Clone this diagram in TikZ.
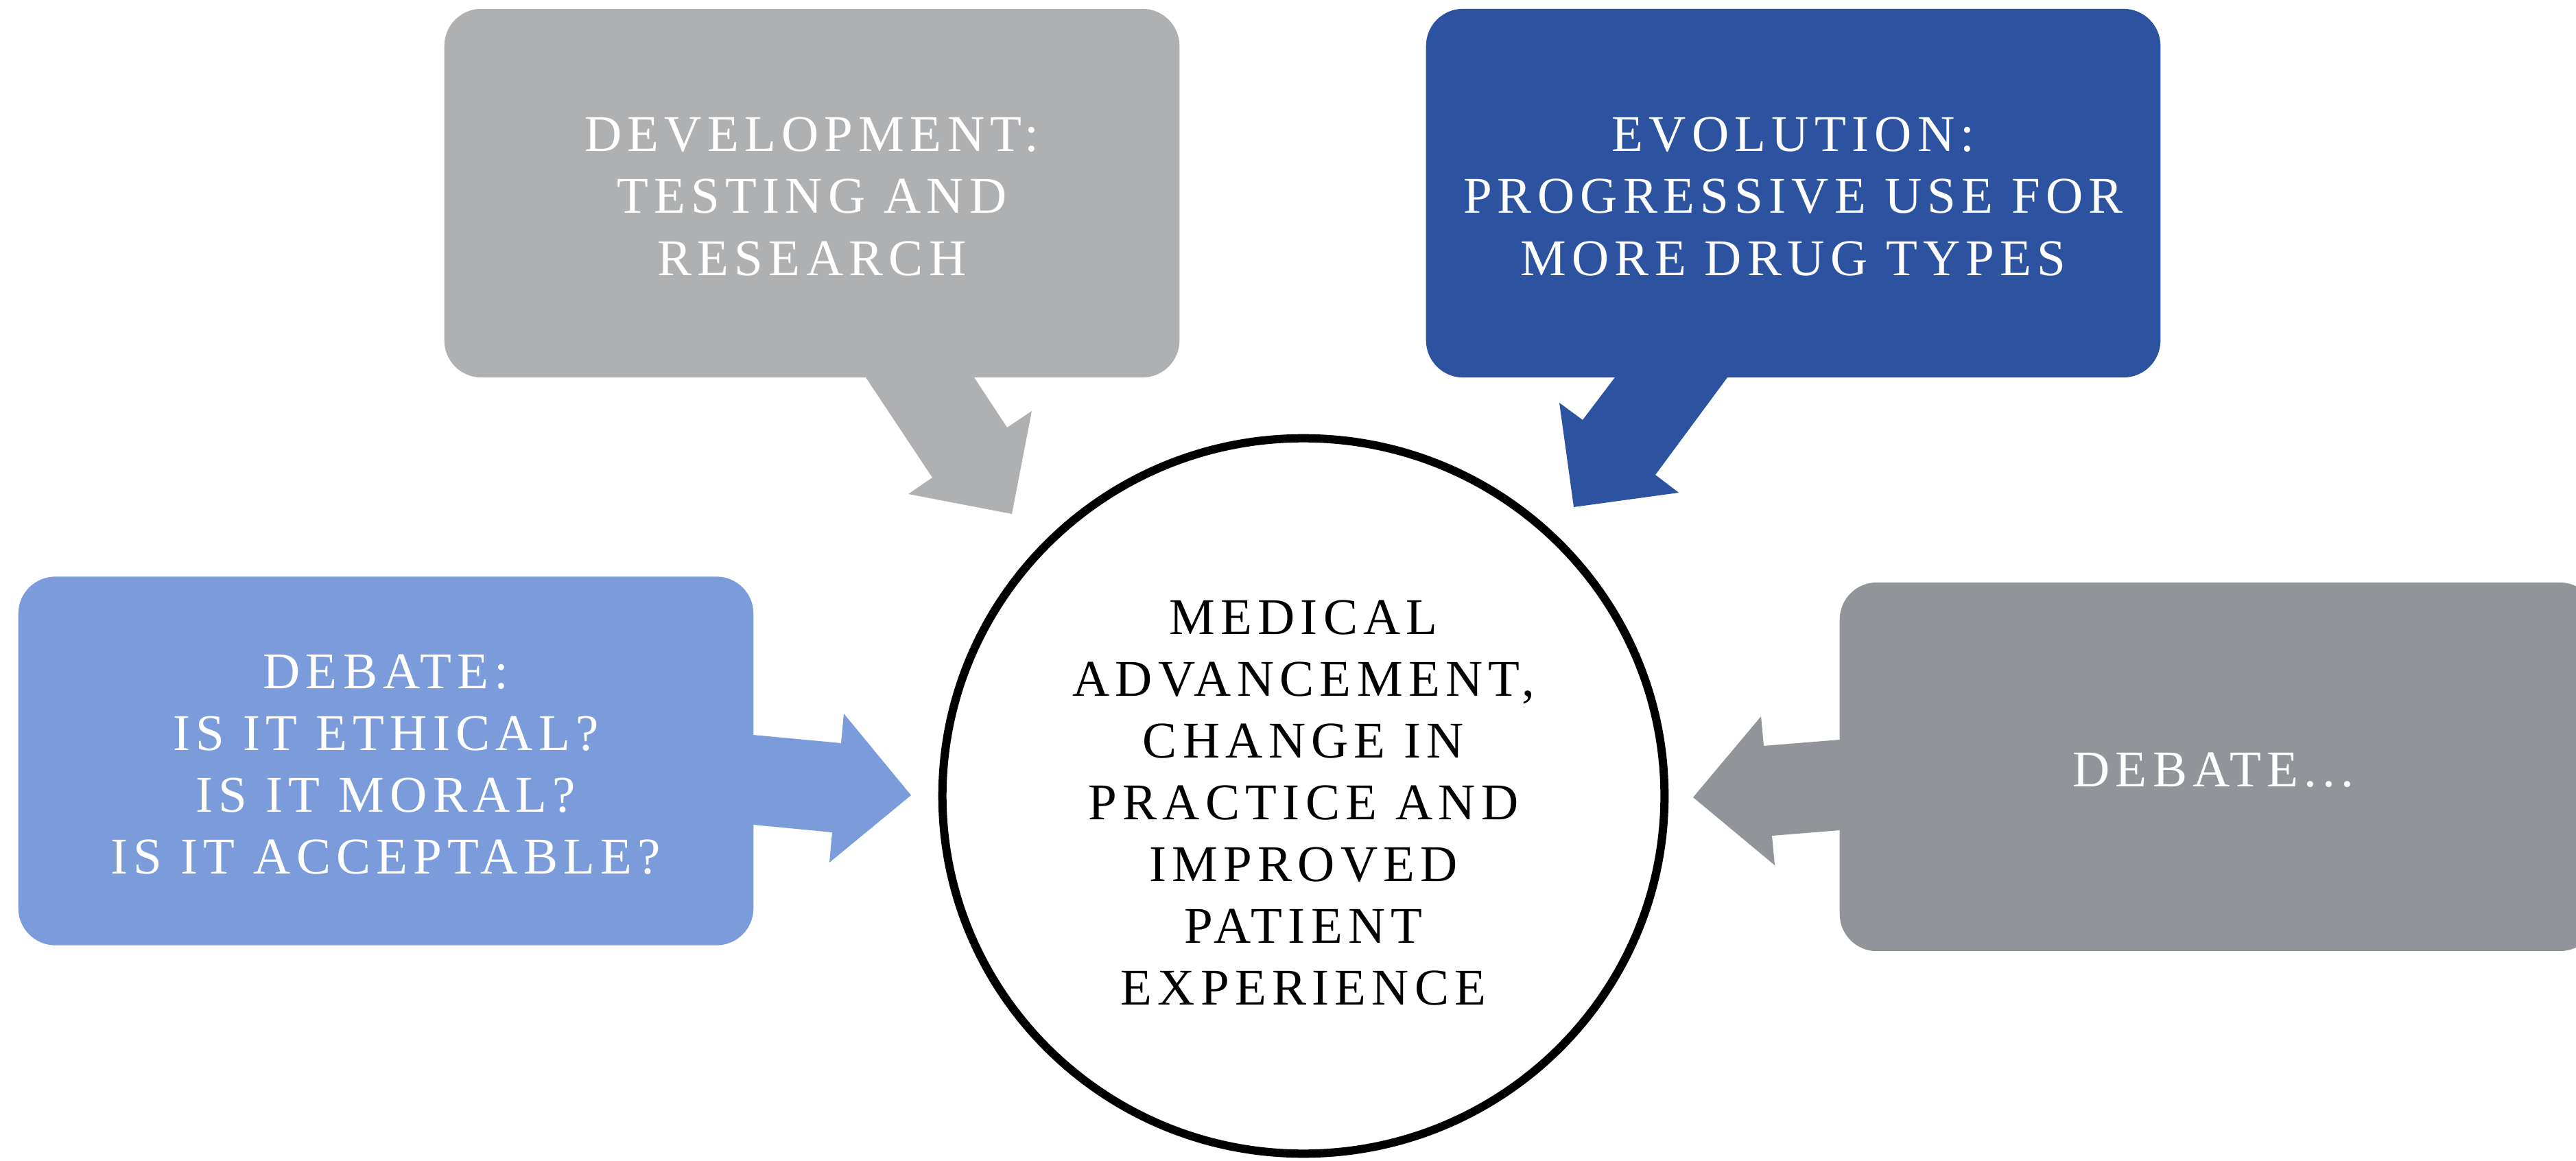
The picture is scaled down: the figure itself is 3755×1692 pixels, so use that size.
\documentclass[tikz,border=0pt]{standalone}
\usepackage{fontspec}
\newfontfamily\lblfont{Liberation Serif}[LetterSpace=11]
\usetikzlibrary{shapes.geometric}
\definecolor{devgray}{RGB}{175,176,178}
\definecolor{evoblue}{RGB}{45,82,160}
\definecolor{debblue}{RGB}{123,155,218}
\definecolor{debgray}{RGB}{145,149,153}
\begin{document}
\begin{tikzpicture}[x=0.01cm,y=-0.01cm,
  callout/.style={draw=none, rounded corners=0.54cm, minimum height=5.37cm, inner sep=0pt},
  lbl/.style={inner sep=0pt, align=center, font=\lblfont\fontsize{21.34pt}{25.61pt}\selectfont},
  hubstyle/.style={ellipse, draw=black, line width=0.12cm, fill=white, inner sep=0pt}
]
\useasboundingbox (0,0) rectangle (3755,1692);
\clip (0,0) rectangle (3755,1692);

% boxes
\node[callout, fill=devgray, minimum width=10.71cm] (dev) at (1183.5,281.5) {};
\node[callout, fill=evoblue, minimum width=10.70cm] (evo) at (2614,281.5) {};
\node[callout, fill=debblue, minimum width=10.71cm] (deb) at (562.5,1109) {};
\node[callout, fill=debgray, minimum width=11.03cm] (deb2) at (3233.5,1117.5) {};

% arrows of the callouts
\fill[devgray] (1262,540) -- (1262,550) -- (1359,696) -- (1324,720) -- (1475,749) -- (1504,599) -- (1468,623) -- (1420,550) -- (1420,540) -- cycle;
\fill[evoblue] (2354,540) -- (2354,550) -- (2307,612) -- (2273,587) -- (2294,739) -- (2447,718) -- (2413,692) -- (2518,550) -- (2518,540) -- cycle;
\fill[debblue] (1088,1071) -- (1098,1071) -- (1226,1083) -- (1230,1040) -- (1328,1159) -- (1209,1257) -- (1213,1213) -- (1098,1202) -- (1088,1202) -- cycle;
\fill[debgray] (2692,1078) -- (2682,1078) -- (2571,1087) -- (2567,1044) -- (2468,1162) -- (2587,1261) -- (2583,1218) -- (2682,1210) -- (2692,1210) -- cycle;

% hub
\node[hubstyle, minimum width=10.52cm, minimum height=10.42cm] (hub) at (1900,1160) {};

% texts
\node[lbl, text=white] (devtext) at ([yshift=-0.05cm]dev.center) {DEVELOPMENT:\\TESTING AND\\RESEARCH};
\node[lbl, text=white] (evotext) at ([yshift=-0.05cm]evo.center) {EVOLUTION:\\PROGRESSIVE USE FOR\\MORE DRUG TYPES};
\node[lbl, text=white] (debtext) at ([yshift=-0.05cm]deb.center) {DEBATE:\\IS IT ETHICAL?\\IS IT MORAL?\\IS IT ACCEPTABLE?};
\node[lbl, text=white] (deb2text) at ([xshift=-0.07cm,yshift=-0.05cm]deb2.center) {DEBATE...};
\node[lbl, text=black] (hubtext) at ([yshift=-0.1cm]hub.center) {MEDICAL\\ADVANCEMENT,\\CHANGE IN\\PRACTICE AND\\IMPROVED\\PATIENT\\EXPERIENCE};
\end{tikzpicture}
\end{document}
